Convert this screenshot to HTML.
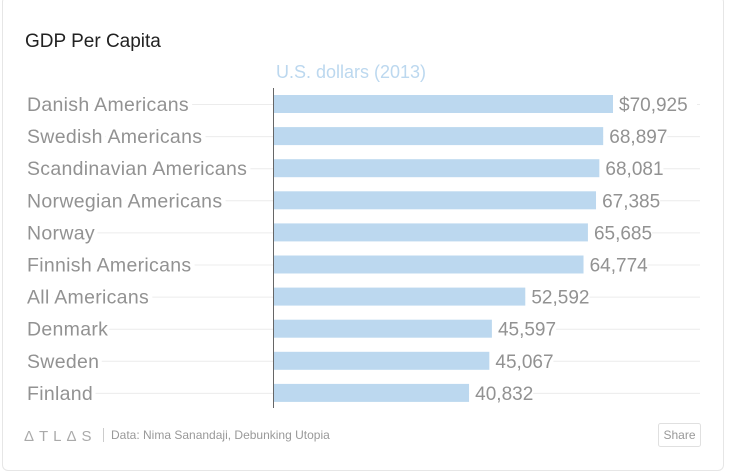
<!DOCTYPE html>
<html><head><meta charset="utf-8"><style>
body{margin:0;background:#fff;font-family:"Liberation Sans",sans-serif;}
#card{position:absolute;left:2px;top:-4px;width:722px;height:475px;border:1px solid #e6e6e6;border-radius:6px;box-sizing:border-box;}
</style></head><body>
<div id="card"></div>
<svg id="chart" width="729" height="466" style="position:absolute;left:0;top:0">
<text x="25" y="47" font-size="19" fill="#222">GDP Per Capita</text>
<text x="351" y="78" font-size="18" fill="#bcd8ef" text-anchor="middle">U.S. dollars (2013)</text>
<g id="rows"></g>
<line x1="273.5" y1="88" x2="273.5" y2="408" stroke="#666" stroke-width="1"/>
<text x="24" y="441" font-size="15" fill="#aaa" letter-spacing="5">ΔTLΔS</text>
<line x1="103.5" y1="428" x2="103.5" y2="442" stroke="#ccc"/>
<text x="111" y="439" font-size="12" fill="#999">Data: Nima Sanandaji, Debunking Utopia</text>
<g>
<rect x="658.5" y="423.5" width="42" height="23" rx="2" fill="#fff" stroke="#e0e0e0"/>
<text x="679.5" y="439" font-size="12" fill="#999" text-anchor="middle">Share</text>
</g>
</svg>
<script>
const categories=["Danish Americans","Swedish Americans","Scandinavian Americans","Norwegian Americans","Norway","Finnish Americans","All Americans","Denmark","Sweden","Finland"];
const values=[70925,68897,68081,67385,65685,64774,52592,45597,45067,40832];
const valueLabels=["$70,925","68,897","68,081","67,385","65,685","64,774","52,592","45,597","45,067","40,832"];
const x0=274,xMax=70925,wMax=339;
function xs(v){return x0+v/xMax*wMax;}
function ys(i){return 95+i*32.1;}
const NS="http://www.w3.org/2000/svg";
const g=document.getElementById('rows');
function mk(t,a){const e=document.createElementNS(NS,t);for(const k in a)e.setAttribute(k,a[k]);g.appendChild(e);return e;}
categories.forEach((c,i)=>{
const y=ys(i);
const gl=mk('line',{x1:27,x2:700,y1:y+9.5,y2:y+9.5,stroke:'#ececec'});


const lb=mk('text',{x:27,y:y+16,'font-size':19.5,'letter-spacing':0.3,fill:'#929292',stroke:'#fff','stroke-width':8,'paint-order':'stroke'});
lb.textContent=c;


const b=mk('rect',{x:x0,y:y,width:xs(values[i])-x0,height:18,fill:'#bcd8ef'});


const bg=mk('rect',{x:xs(values[i]),y:y-2,width:(i==0?84:64),height:22,fill:'#fff'});


const v=mk('text',{x:xs(values[i])+6,y:y+16,'font-size':19,fill:'#929292'});
v.textContent=valueLabels[i];


});
</script>
</body></html>
